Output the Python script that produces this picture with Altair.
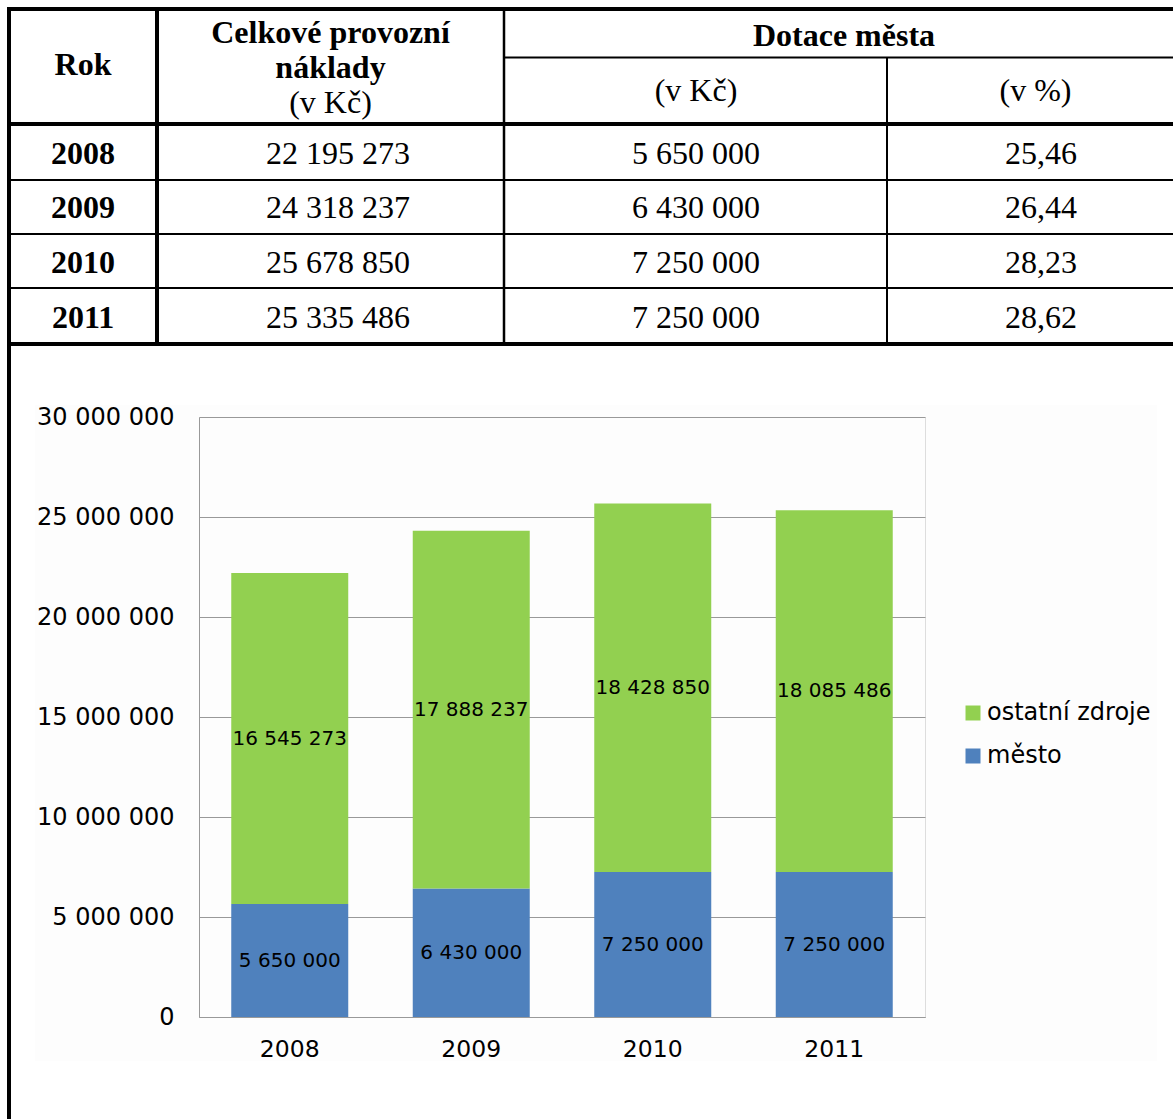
import altair as alt
import pandas as pd

# --- data -------------------------------------------------------------
roky = ["2008", "2009", "2010", "2011"]
celkove_naklady = [22195273, 24318237, 25678850, 25335486]
dotace_kc = [5650000, 6430000, 7250000, 7250000]
dotace_procenta = [25.46, 26.44, 28.23, 28.62]
ostatni_zdroje = [16545273, 17888237, 18428850, 18085486]

zdroje = ["ostatní zdroje", "město"]
barvy = ["#92D050", "#4F81BD"]
osa_y_hodnoty = [0, 5000000, 10000000, 15000000, 20000000, 25000000, 30000000]

# --- page layout (pixels) ---------------------------------------------
W, H = 1173, 1119
PLOT_L, PLOT_T, PLOT_R, PLOT_B = 199, 417, 925, 1017
TAB_FONT = 32


def rx(x):
    return x - PLOT_L


def ry(y):
    return y - PLOT_T


ONE = alt.Data(values=[{}])
SERIF = "Liberation Serif"
SANS = "DejaVu Sans"


def hline(y, x1, x2, w):
    return alt.Chart(ONE).mark_rule(color="black", strokeWidth=w, strokeCap="butt").encode(
        x=alt.value(rx(x1)), x2=alt.value(rx(x2)), y=alt.value(ry(y))
    )


def vline(x, y1, y2, w):
    return alt.Chart(ONE).mark_rule(color="black", strokeWidth=w, strokeCap="butt").encode(
        x=alt.value(rx(x)), y=alt.value(ry(y1)), y2=alt.value(ry(y2))
    )


def box(x1, y1, x2, y2, fill):
    return alt.Chart(ONE).mark_rect(color=fill).encode(
        x=alt.value(rx(x1)), x2=alt.value(rx(x2)), y=alt.value(ry(y1)), y2=alt.value(ry(y2))
    )


def nadpis(text, x, y, bold=True):
    return alt.Chart(ONE).mark_text(
        font=SERIF, fontSize=TAB_FONT, fontWeight="bold" if bold else "normal",
        align="center", baseline="alphabetic", color="black",
    ).encode(x=alt.value(rx(x)), y=alt.value(ry(y)), text=alt.value(text))


# --- table ------------------------------------------------------------
tabulka = pd.DataFrame({
    "rok": roky,
    "celkem": celkove_naklady,
    "dotace": dotace_kc,
    "podil": dotace_procenta,
})

radky_y = alt.Y(
    "rok:O",
    scale=alt.Scale(domain=roky, range=[ry(163.5), ry(327.5)], padding=0),
    axis=None,
)


def sloupec(text, x, bold=False):
    return alt.Chart(tabulka).mark_text(
        font=SERIF, fontSize=TAB_FONT, fontWeight="bold" if bold else "normal",
        align="center", baseline="alphabetic", color="black",
    ).encode(x=alt.value(rx(x)), y=radky_y, text=text)


tabulka_vrstvy = [
    # frame
    hline(9, 7, W + 20, 4),
    hline(124, 7, W + 20, 4),
    hline(344, 7, W + 20, 4),
    hline(57.5, 504, W + 20, 2),
    hline(180, 9, W + 20, 2),
    hline(234, 9, W + 20, 2),
    hline(288, 9, W + 20, 2),
    vline(9, 7, H + 5, 4),
    vline(157, 7, 346, 4),
    vline(504, 9, 344, 2.5),
    vline(887, 57, 344, 2),
    # header
    nadpis("Rok", 83, 75),
    nadpis("Celkové provozní", 330.5, 43),
    nadpis("náklady", 330.5, 78),
    nadpis("(v Kč)", 330.5, 113, bold=False),
    nadpis("Dotace města", 844, 46),
    nadpis("(v Kč)", 696, 101, bold=False),
    nadpis("(v %)", 1035.5, 101, bold=False),
    # body
    sloupec(alt.Text("rok:N"), 83, bold=True),
    sloupec(alt.Text("celkem:Q", format=",d"), 338),
    sloupec(alt.Text("dotace:Q", format=",d"), 696),
    sloupec(alt.Text("podil:Q", format=".2f"), 1041),
]

# faint page tint behind the chart, white elsewhere
pozadi = [
    box(0, 0, W, 405, "white"),
    box(0, 405, 35, H, "white"),
    box(1157, 405, W, H, "white"),
    box(35, 1061, 1157, H, "white"),
]

# --- stacked bar chart ------------------------------------------------
dlouha = pd.DataFrame({
    "rok": roky * 2,
    "zdroj": ["město"] * 4 + ["ostatní zdroje"] * 4,
    "hodnota": dotace_kc + ostatni_zdroje,
    "poradi": [0] * 4 + [1] * 4,
})

osa_x = alt.Axis(
    title=None, labelAngle=0, ticks=False, tickSize=0, labelPadding=20,
    labelFont=SANS, labelFontSize=23.5, labelColor="black",
    domainColor="#999999", domainWidth=1, grid=False,
)
osa_y = alt.Axis(
    title=None, values=osa_y_hodnoty, format=",d", grid=True,
    gridColor="#999999", gridWidth=1, domainColor="#999999", domainWidth=1,
    ticks=False, tickSize=0, labelPadding=25,
    labelFont=SANS, labelFontSize=24, labelColor="black",
)

x_enc = alt.X(
    "rok:N", sort=roky,
    scale=alt.Scale(domain=roky, paddingInner=0.3554, paddingOuter=0.1777),
    axis=osa_x,
)
y_scale = alt.Scale(domain=[0, 30000000], nice=False)

zaklad = alt.Chart(dlouha).transform_stack(
    as_=["v0", "v1"], stack="hodnota", groupby=["rok"],
    sort=[alt.SortField("poradi", order="ascending")],
).transform_calculate(stred="(datum.v0 + datum.v1) / 2")

sloupce = zaklad.mark_bar().encode(
    x=x_enc,
    y=alt.Y("v0:Q", scale=y_scale, axis=osa_y),
    y2="v1:Q",
    color=alt.Color(
        "zdroj:N",
        scale=alt.Scale(domain=zdroje, range=barvy),
        legend=alt.Legend(
            title=None, orient="none", legendX=rx(961), legendY=ry(701),
            symbolType="square", symbolSize=225, symbolStrokeWidth=0,
            labelFont=SANS, labelFontSize=24, labelColor="black", labelLimit=0,
            labelOffset=2, rowPadding=19, padding=0,
        ),
    ),
)

popisky = zaklad.mark_text(
    font=SANS, fontSize=20, color="black", align="center", baseline="middle"
).encode(
    x=x_enc,
    y=alt.Y("stred:Q", scale=y_scale, axis=osa_y),
    text=alt.Text("hodnota:Q", format=",d"),
)

graf = alt.layer(sloupce, popisky)

chart = alt.layer(*pozadi, graf, *tabulka_vrstvy).resolve_scale(
    x="independent", y="independent"
).properties(
    width=PLOT_R - PLOT_L,
    height=PLOT_B - PLOT_T,
    padding={"left": PLOT_L, "top": PLOT_T, "right": W - PLOT_R, "bottom": H - PLOT_B},
    autosize=alt.AutoSizeParams(type="none"),
    background="#fdfdfd",
).configure_view(
    stroke=None
).configure(
    locale={"number": {"decimal": ",", "thousands": " ", "grouping": [3], "currency": ["", " Kč"]}}
)

chart.save("out.html", embed_options={"renderer": "svg", "actions": False})
